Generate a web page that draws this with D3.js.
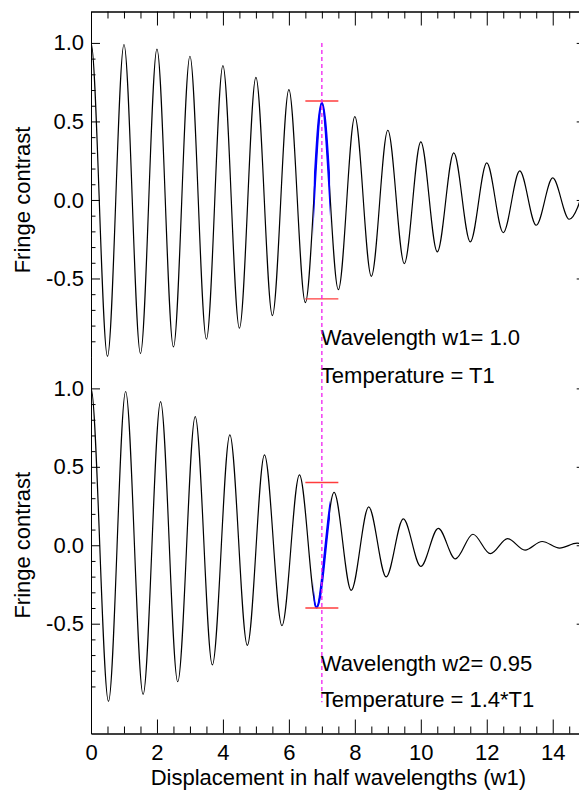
<!DOCTYPE html>
<html>
<head>
<meta charset="utf-8">
<script src="https://cdn.jsdelivr.net/npm/d3@7"></script>
<style>
  body { margin: 0; background: #fff; }
  svg text { font-family: "Liberation Sans", Arial, Helvetica, sans-serif; fill: #000; }
  .axis path, .axis line { stroke: #000; stroke-width: 1; }
</style>
</head>
<body>
<div class="visHolder"></div>
<script>
// fringe extrema (x in half wavelengths of w1)
var topX = [-0.5, 0, 0.5, 1, 1.5, 2, 2.5, 3, 3.5, 4, 4.5, 5, 5.5, 6, 6.5, 7, 7.5,
            8, 8.5, 9, 9.5, 10, 10.5, 11, 11.5, 12, 12.5, 13, 13.5, 14, 14.5, 15];
var topY = [-1.0, 1.0, -0.996, 0.99, -0.978, 0.96, -0.936, 0.915, -0.887, 0.855, -0.817, 0.78,
            -0.736, 0.702, -0.654, 0.618, -0.571, 0.53, -0.486, 0.444, -0.405, 0.37, -0.331, 0.30,
            -0.267, 0.236, -0.208, 0.185, -0.161, 0.14, -0.123, 0.11];

var bottomX = [-0.53, 0, 0.53, 1.05, 1.58, 2.11, 2.63, 3.16, 3.68, 4.21, 4.74, 5.26, 5.79, 6.32,
               6.84, 7.37, 7.89, 8.42, 8.95, 9.47, 10.0, 10.53, 11.05, 11.58, 12.11, 12.63, 13.16,
               13.68, 14.21, 14.74, 15.26];
var bottomY = [-0.995, 1.0, -0.995, 0.98, -0.951, 0.915, -0.87, 0.82, -0.763, 0.703, -0.638, 0.576,
               -0.512, 0.449, -0.396, 0.337, -0.288, 0.244, -0.202, 0.168, -0.135, 0.108, -0.087,
               0.07, -0.054, 0.042, -0.031, 0.024, -0.018, 0.013, -0.009];

// highlighted part of the fringe, marker position and the red level bars
var blueRange = [6.75, 7.25];
var markerX = 7.0;
var barRange = [6.5, 7.5];
var topBars = [0.63, -0.63];
var bottomBars = [0.40, -0.40];

var xMajorTicks = [0, 2, 4, 6, 8, 10, 12, 14];
var xMinorTicks = [0.5, 1, 1.5, 2.5, 3, 3.5, 4.5, 5, 5.5, 6.5, 7, 7.5, 8.5, 9, 9.5,
                   10.5, 11, 11.5, 12.5, 13, 13.5, 14.5];
var yMajorTicks = [1.0, 0.5, 0.0, -0.5];
var yMinorTicks = [0.9, 0.8, 0.7, 0.6, 0.4, 0.3, 0.2, 0.1, -0.1, -0.2, -0.3, -0.4,
                   -0.6, -0.7, -0.8, -0.9];

var topLabels = ['Wavelength w1= 1.0', 'Temperature = T1'];
var bottomLabels = ['Wavelength w2= 0.95', 'Temperature = 1.4*T1'];

var width = 579,
    height = 791,
    plotLeft = 91,
    plotRight = 585.7,
    plotTop = 11.5,
    plotMiddle = 357,
    plotBottom = 733.5,
    fontSize = 22;

var svg = d3.select('.visHolder')
            .append('svg')
            .attr('width', width)
            .attr('height', height);

var xScale = d3.scaleLinear().domain([0, 15]).range([plotLeft, plotRight]);
var yTop = d3.scaleLinear().domain([-1.0, 1.2]).range([plotMiddle, plotTop]);
var yBottom = d3.scaleLinear().domain([-1.2, 1.2]).range([plotBottom, plotMiddle]);

var fmt = function(d) { return d.toFixed(1); };

function drawPanel(name, yScale, xs, ys, bars, labels, labelY) {
    var pts = xs.map(function(x, i) { return [x, ys[i]]; });
    var y0 = yScale.range()[1], y1 = yScale.range()[0];

    svg.append('clipPath')
       .attr('id', 'clip-' + name)
       .append('rect')
       .attr('x', plotLeft)
       .attr('y', y0)
       .attr('width', plotRight - plotLeft)
       .attr('height', y1 - y0);

    svg.append('clipPath')
       .attr('id', 'blue-' + name)
       .append('rect')
       .attr('x', xScale(blueRange[0]))
       .attr('y', y0)
       .attr('width', xScale(blueRange[1]) - xScale(blueRange[0]))
       .attr('height', y1 - y0);

    var line = d3.line()
                 .x(function(d) { return xScale(d[0]); })
                 .y(function(d) { return yScale(d[1]); })
                 .curve(d3.curveMonotoneX);

    svg.append('path')
       .attr('d', line(pts))
       .attr('clip-path', 'url(#clip-' + name + ')')
       .style('fill', 'none')
       .style('stroke', '#000')
       .style('stroke-width', 1.2);

    svg.append('path')
       .attr('d', line(pts))
       .attr('clip-path', 'url(#blue-' + name + ')')
       .style('fill', 'none')
       .style('stroke', '#0000ff')
       .style('stroke-width', 2.6);

    svg.selectAll('.bar-' + name)
       .data(bars)
       .enter()
       .append('line')
       .attr('class', 'bar-' + name)
       .attr('x1', xScale(barRange[0]))
       .attr('x2', xScale(barRange[1]))
       .attr('y1', function(d) { return yScale(d); })
       .attr('y2', function(d) { return yScale(d); })
       .style('stroke', '#ff3c3c')
       .style('stroke-width', 1.4);

    // left axis: labelled majors pointing inward, then the minors
    svg.append('g')
       .attr('class', 'axis')
       .attr('transform', 'translate(' + plotLeft + ',0)')
       .call(d3.axisLeft(yScale).tickValues(yMajorTicks).tickFormat(fmt)
               .tickSizeInner(-9).tickSizeOuter(0).tickPadding(7))
       .call(function(g) {
           g.selectAll('text').style('font-size', fontSize + 'px')
            .style('font-family', '"Liberation Sans", Arial, sans-serif');
       });

    svg.append('g')
       .attr('class', 'axis')
       .attr('transform', 'translate(' + plotLeft + ',0)')
       .call(d3.axisLeft(yScale).tickValues(yMinorTicks).tickFormat('')
               .tickSizeInner(-4.5).tickSizeOuter(0));

    svg.append('g')
       .attr('class', 'axis')
       .attr('transform', 'translate(' + plotRight + ',0)')
       .call(d3.axisRight(yScale).tickValues(yMajorTicks).tickFormat('')
               .tickSizeInner(-9).tickSizeOuter(0));

    svg.append('text')
       .attr('transform', 'translate(30,' + yScale(0) + ') rotate(-90)')
       .attr('text-anchor', 'middle')
       .style('font-size', fontSize + 'px')
       .text('Fringe contrast');

    svg.selectAll('.note-' + name)
       .data(labels)
       .enter()
       .append('text')
       .attr('class', 'note-' + name)
       .attr('x', xScale(markerX) - 1)
       .attr('y', function(d, i) { return labelY[i]; })
       .style('font-size', fontSize + 'px')
       .text(function(d) { return d; });
}

drawPanel('top', yTop, topX, topY, topBars, topLabels, [345, 382.5]);
drawPanel('bottom', yBottom, bottomX, bottomY, bottomBars, bottomLabels, [670.5, 706.5]);

// dashed marker through both panels
svg.append('line')
   .attr('x1', xScale(markerX))
   .attr('x2', xScale(markerX))
   .attr('y1', yTop(1.0))
   .attr('y2', yBottom(-1.0))
   .style('stroke', '#f020f0')
   .style('stroke-width', 1.3)
   .style('stroke-dasharray', '4,3');

// top and bottom x axes
svg.append('g')
   .attr('class', 'axis')
   .attr('transform', 'translate(0,' + plotTop + ')')
   .call(d3.axisTop(xScale).tickValues(xMajorTicks).tickFormat('')
           .tickSizeInner(-14).tickSizeOuter(0));
svg.append('g')
   .attr('class', 'axis')
   .attr('transform', 'translate(0,' + plotTop + ')')
   .call(d3.axisTop(xScale).tickValues(xMinorTicks).tickFormat('')
           .tickSizeInner(-7).tickSizeOuter(0));

svg.append('g')
   .attr('class', 'axis')
   .attr('transform', 'translate(0,' + plotBottom + ')')
   .call(d3.axisBottom(xScale).tickValues(xMajorTicks).tickFormat(d3.format('d'))
           .tickSizeInner(-14).tickSizeOuter(0).tickPadding(11))
   .call(function(g) {
       g.selectAll('text').style('font-size', fontSize + 'px')
        .style('font-family', '"Liberation Sans", Arial, sans-serif');
   });
svg.append('g')
   .attr('class', 'axis')
   .attr('transform', 'translate(0,' + plotBottom + ')')
   .call(d3.axisBottom(xScale).tickValues(xMinorTicks).tickFormat('')
           .tickSizeInner(-7).tickSizeOuter(0));

svg.append('text')
   .attr('x', (plotLeft + plotRight) / 2)
   .attr('y', 785)
   .attr('text-anchor', 'middle')
   .style('font-size', fontSize + 'px')
   .text('Displacement in half wavelengths (w1)');
</script>
</body>
</html>
